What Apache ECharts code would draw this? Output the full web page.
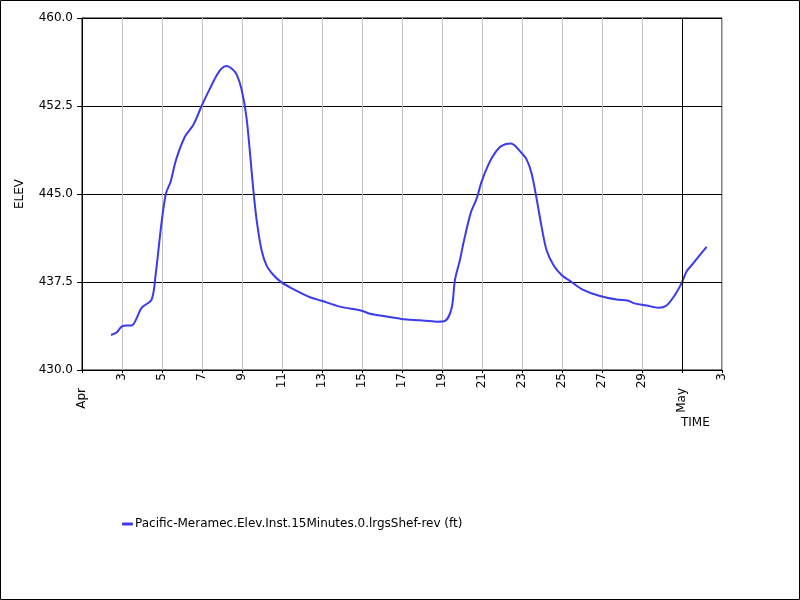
<!DOCTYPE html>
<html>
<head>
<meta charset="utf-8">
<script src="https://cdn.jsdelivr.net/npm/echarts@6/dist/echarts.min.js"></script>
<style>
  html, body { margin: 0; padding: 0; background: #fff; }
  #chart { width: 800px; height: 600px; }
</style>
</head>
<body>
<div id="chart"></div>
<script>
// days since Apr 1, 00:00
const dayOffsets = [
  1.45, 1.73, 1.98, 2.23, 2.48, 2.98, 3.48, 3.68, 3.98, 4.2,
  4.43, 4.7, 5.15, 5.57, 5.98, 6.4, 6.73, 6.98, 7.23, 7.48,
  7.73, 7.98, 8.23, 8.57, 8.73, 8.98, 9.23, 9.57, 9.98, 10.4,
  11.4, 11.98, 12.9, 13.98, 14.4, 15.07, 15.98, 16.9, 17.73, 18.15,
  18.48, 18.65, 18.9, 19.07, 19.43, 19.73, 19.98, 20.32, 20.65, 20.98,
  21.45, 21.98, 22.23, 22.48, 22.73, 22.98, 23.23, 23.57, 23.98, 24.48,
  24.98, 25.9, 26.73, 27.32, 27.57, 28.23, 28.82, 29.23, 29.65, 29.98,
  30.23, 30.57, 30.82, 31.23
];
const elev = [
  432.98, 433.2, 433.7, 433.8, 433.8, 435.3, 436.0, 438.1, 442.6, 445.06,
  446.05, 447.9, 449.9, 450.9, 452.5, 454.0, 455.1, 455.7, 455.9, 455.7,
  455.2, 453.9, 451.45, 445.3, 442.8, 440.2, 438.9, 438.1, 437.47, 437.05,
  436.2, 435.9, 435.4, 435.05, 434.8, 434.6, 434.35, 434.23, 434.12, 434.18,
  435.26, 437.7, 439.4, 440.8, 443.35, 444.6, 446.05, 447.5, 448.5, 449.1,
  449.3, 448.5, 447.95, 446.75, 444.6, 442.2, 440.2, 438.95, 438.1, 437.5,
  436.9, 436.3, 436.0, 435.9, 435.7, 435.5, 435.3, 435.5, 436.4, 437.4,
  438.4, 439.1, 439.65, 440.5
];
// tick labels every 2 days, Apr 1 .. May 3
const dayLabels = ['', '3', '5', '7', '9', '11', '13', '15', '17', '19', '21', '23', '25', '27', '29', '', '3'];
const monthLabels = { 0: 'Apr', 30: 'May' };
const seriesName = 'Pacific-Meramec.Elev.Inst.15Minutes.0.lrgsShef-rev (ft)';

const font = 'DejaVu Sans';
const chart = echarts.init(document.getElementById('chart'));

chart.setOption({
  animation: false,
  backgroundColor: '#fff',
  textStyle: { fontFamily: font },
  grid: { left: 82, right: 78, top: 18, bottom: 230, containLabel: false, show: true, borderColor: '#000', borderWidth: 1 },
  xAxis: [
    {
      type: 'value', min: 0, max: 32, interval: 2,
      axisLine: { show: true, lineStyle: { color: '#000' } },
      axisTick: { show: true, length: 3, lineStyle: { color: '#000' } },
      axisLabel: {
        rotate: 90, margin: 3, color: '#000', fontSize: 12, fontFamily: font,
        formatter: v => dayLabels[Math.round(v / 2)] || ''
      },
      splitLine: { show: true, lineStyle: { color: '#c0c0c0', width: 1 } }
    },
    {
      type: 'value', min: 0, max: 32, interval: 2, position: 'bottom',
      axisLine: { show: false }, axisTick: { show: false }, splitLine: { show: false },
      axisLabel: {
        rotate: 90, margin: 18, color: '#000', fontSize: 12, fontFamily: font,
        formatter: v => monthLabels[v] || ''
      }
    }
  ],
  yAxis: {
    type: 'value', min: 430, max: 460, interval: 7.5,
    name: 'ELEV', nameLocation: 'middle', nameRotate: 90, nameGap: 56,
    nameTextStyle: { color: '#000', fontSize: 12, fontFamily: font },
    axisLine: { show: true, lineStyle: { color: '#000' } },
    axisTick: { show: true, length: 5, lineStyle: { color: '#000' } },
    axisLabel: { color: '#000', fontSize: 12, fontFamily: font, margin: 9, formatter: v => v.toFixed(1) },
    splitLine: { show: true, lineStyle: { color: '#000', width: 1 } }
  },
  legend: {
    left: 117, top: 513, icon: 'roundRect', itemWidth: 11, itemHeight: 3, itemGap: 4,
    textStyle: { color: '#000', fontSize: 12, fontFamily: font, padding: [0, 0, 0, -3] },
    data: [seriesName]
  },
  graphic: [
    { type: 'text', left: 681, top: 417, style: { text: 'TIME', fill: '#000', font: '12px "DejaVu Sans"' } },
    { type: 'rect', shape: { x: 0.5, y: 0.5, width: 799, height: 599 }, style: { fill: 'none', stroke: '#000', lineWidth: 1 }, silent: true }
  ],
  series: [{
    name: seriesName,
    type: 'line',
    data: dayOffsets.map((d, i) => [d, elev[i]]),
    showSymbol: false,
    smooth: 0.3,
    lineStyle: { color: '#3a3aee', width: 2 },
    itemStyle: { color: '#3a3aee' },
    markLine: {
      silent: true, symbol: 'none', label: { show: false },
      lineStyle: { color: '#000', type: 'solid', width: 1 },
      data: [{ xAxis: 30 }]
    }
  }]
});
</script>
</body>
</html>
